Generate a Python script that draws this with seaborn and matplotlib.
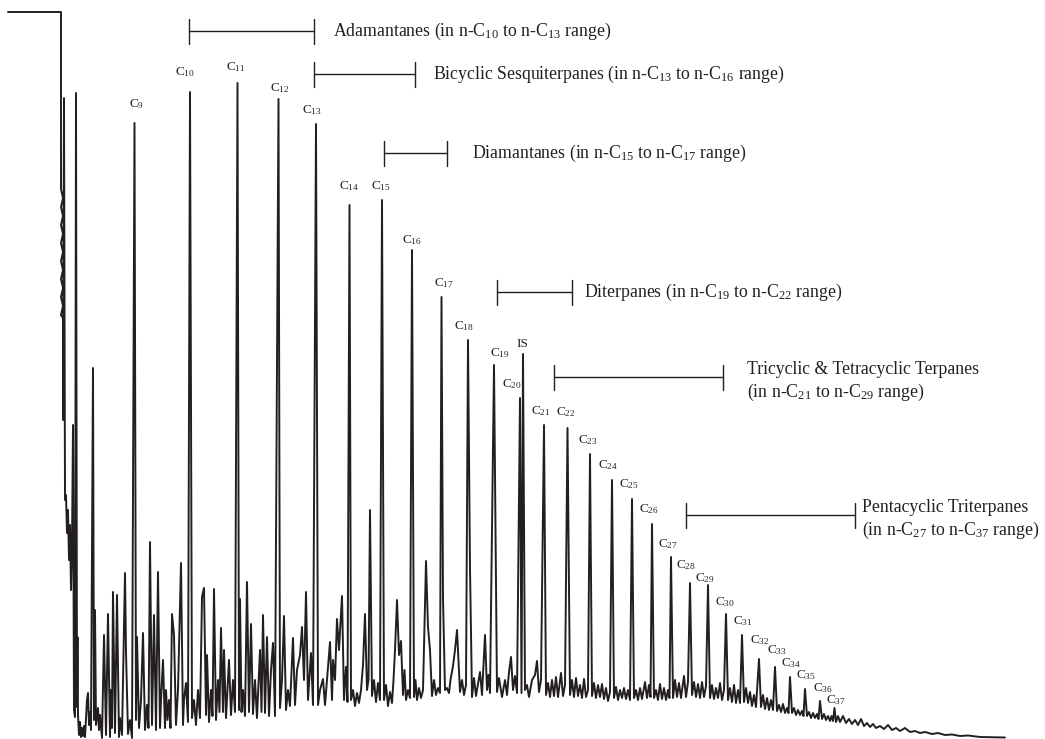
import matplotlib.pyplot as plt
import pandas as pd
import seaborn as sns

# n-alkane peaks (scan position, abundance at apex)
alkane_carbons = [9, 10, 11, 12, 13, 14, 15, 16, 17, 18, 19, 20, 21, 22, 23,
                  24, 25, 26, 27, 28, 29, 30, 31, 32, 33, 34, 35, 36, 37]
alkane_scan = [134.5, 190, 237.5, 278.5, 316, 349.5, 382, 412, 441.5, 468,
               494, 520, 544, 567.5, 590, 612, 632, 652, 671, 690, 708, 726,
               742, 759, 775, 790, 805, 820, 834.5]
alkane_abundance = [616, 647, 656, 640, 615, 534, 539, 489, 442, 399, 374,
                    341, 314, 311, 285, 259, 240, 215, 182, 156, 154, 125,
                    104, 80, 72, 62, 50, 38, 31]

# internal standard
is_scan = [523]
is_abundance = [385]

# solvent front at the start of the run (in drawing order)
solvent_scan = [8, 61, 61, 63, 61, 63, 61, 63, 61, 63, 61, 63, 61, 63, 61,
                63, 61, 63, 63, 64, 65, 66, 67, 68, 69, 70, 71, 72, 73, 74,
                75, 76, 77, 77.5, 78]
solvent_abundance = [727, 727, 550, 541, 532, 523, 514, 505, 496, 487, 478,
                     469, 460, 451, 442, 433, 424, 421, 319, 641, 239, 244,
                     206, 229, 179, 214, 149, 194, 314, 29, 22, 646, 32, 102,
                     24]

# unresolved hump + minor peaks between the n-alkanes
background_scan = [
    79, 80, 81, 82, 83, 84, 85, 87, 88, 89, 90, 91, 93, 94, 95, 96, 98, 99,
    100, 102, 104, 106, 108, 110, 111, 112, 113, 115, 117, 119, 120, 122, 125,
    126, 128, 130, 132, 136, 137, 139, 141, 143, 145, 147, 148.5, 150, 152,
    154, 156, 158, 160, 161, 163, 165, 166, 167.5, 169, 170.5, 172, 174, 176,
    178, 181, 183, 184, 186, 188, 192, 194, 196, 198, 200, 202, 204, 206, 207,
    209, 211, 212.5, 214, 216, 218, 219.5, 221, 223, 224, 226, 229, 231, 233,
    235, 239, 240, 241.5, 243, 245, 247, 249, 251, 253, 255, 257, 260, 261.5,
    263, 265, 267, 269, 271, 273, 275, 280, 282, 284, 286, 288, 290, 293, 295,
    297, 300, 302, 304, 306, 308, 311, 313, 318, 320, 323, 325, 327, 330, 332,
    333, 335, 337, 339, 342, 344, 346, 347.5, 351, 353, 355, 357, 359, 361,
    363, 365, 367, 368.5, 370, 372, 374, 376, 378, 380, 384, 386, 388, 390,
    392, 393.5, 395, 397, 399, 401, 403, 404.5, 406, 408, 410, 414, 415.5,
    417, 419, 421, 423, 426, 428, 430, 432, 434, 436, 438, 440, 443, 445, 447,
    449, 450.5, 453, 455, 457, 458.5, 460, 462, 464, 466, 470, 472, 474, 476,
    480, 482, 485, 487, 488.5, 490, 497, 499, 502, 505, 507, 509, 511, 513,
    515, 517, 521.5, 525, 527, 529, 532, 535, 537, 539, 541, 546, 548, 550,
    552, 554, 556, 558, 561, 563, 565, 570, 572, 574, 576, 578, 580, 582, 584,
    586, 588, 592, 594, 596, 598, 600, 602, 604, 606, 608, 610, 614, 616, 618,
    620, 622, 624, 626, 628, 630, 634, 636, 638, 640, 642, 645, 647, 649,
    650.5, 654, 656, 658, 660, 662, 664, 666, 668, 669.5, 673, 675, 677, 679,
    681, 684, 686, 688, 692, 694, 696, 698, 700, 702, 704, 706, 710, 712, 714,
    716, 718, 720, 722, 724, 728, 730, 732, 734, 736, 738, 740, 744, 746, 748,
    750, 752, 754, 756, 761, 763, 765, 767, 769, 771, 773, 777, 779, 781, 783,
    785, 787, 788.5, 792, 794, 796, 798, 800, 802, 803.5, 807, 809, 811, 813,
    815, 817, 818.5, 822, 824, 826, 828, 830, 831.5, 833, 836, 838, 840, 843,
    846, 849, 852, 855, 858, 861, 864, 867, 870, 873, 876, 880, 884, 888, 892,
    896, 900, 905, 910, 915, 920, 925, 932, 938, 945, 952, 960, 968, 980, 1005]
background_abundance = [
    4, 17, 2, 11, 3, 13, 2, 39, 46, 14, 27, 9, 371, 19, 129, 14, 31, 9,
    24, 1, 104, 4, 125, 2, 49, 11, 147, 6, 144, 2, 21, 4, 166,
    87, 5, 19, 1, 19, 102, 11, 39, 106, 9, 34, 11, 197, 14,
    124, 9, 167, 11, 39, 79, 11, 49, 19, 39, 11, 125, 104, 14,
    49, 176, 14, 39, 56, 17, 21, 39, 14, 49, 21, 142, 151, 24, 84,
    17, 49, 23, 150, 19, 59, 27, 111, 27, 89, 21, 79, 24, 59,
    27, 29, 140, 27, 49, 23, 157, 27, 115, 25, 59, 21, 89, 27,
    124, 26, 102, 23, 69, 96, 23, 31, 59, 123, 29, 49, 33, 101, 34,
    69, 84, 112, 59, 147, 39, 86, 34, 34, 49, 60, 34, 59, 97, 39,
    79, 59, 120, 89, 143, 39, 72, 37, 39, 49, 33, 46, 36, 49,
    74, 125, 49, 59, 229, 43, 59, 37, 56, 39, 39, 54, 33, 47,
    36, 59, 89, 139, 84, 98, 44, 69, 39, 49, 41, 42, 59,
    39, 51, 41, 49, 178, 112, 89, 43, 59, 44, 51, 46, 141, 49, 51,
    46, 59, 73, 89, 109, 79, 47, 59, 44, 54, 171, 42, 61, 43,
    67, 44, 104, 49, 64, 46, 47, 61, 42, 59, 44, 67, 82, 49,
    63, 46, 46, 49, 54, 42, 59, 64, 78, 47, 59, 44, 56, 42,
    59, 43, 62, 42, 66, 43, 54, 44, 59, 42, 61, 43, 54, 41, 60,
    42, 49, 43, 56, 41, 54, 42, 55, 40, 51, 38, 47, 41, 52, 39,
    49, 41, 51, 40, 49, 39, 41, 49, 39, 51, 40, 57, 41, 54,
    42, 41, 49, 39, 55, 40, 51, 39, 49, 41, 41, 59, 42, 56,
    41, 63, 42, 57, 44, 57, 42, 55, 41, 57, 42, 53, 41, 54, 40,
    51, 41, 56, 39, 49, 39, 51, 37, 54, 36, 49, 36, 37, 51, 36,
    47, 33, 44, 32, 32, 44, 30, 41, 29, 39, 29, 28, 34, 27, 35,
    26, 31, 26, 26, 31, 24, 29, 24, 28, 23, 23, 27, 21, 26,
    21, 25, 20, 20, 25, 19, 23, 18, 23, 18, 17, 23, 17, 23,
    16, 20, 15, 19, 14, 20, 13, 16, 12, 15, 11, 13, 10, 14, 9,
    11, 8, 11, 7, 8, 6, 7, 5, 6, 4, 4.5, 3, 3.5, 2, 1.5]

# label anchor for each n-alkane (centre of the text)
alkane_label_pos = [(137, 635), (185, 667), (236, 672), (280, 651), (312, 629),
                    (349, 553), (381, 553), (412, 499), (444, 456), (464, 413),
                    (500, 386), (512, 355), (541, 328), (566, 327), (588, 299),
                    (608, 274), (629, 255), (649, 230), (668, 195), (686, 174),
                    (705, 161), (725, 137), (743, 118), (760, 99), (777, 89),
                    (791, 76), (806, 64), (823, 51), (836, 39)]
is_label_pos = (522, 395)

# biomarker ranges drawn as brackets
bracket_start = [189, 314, 384, 497, 554, 686]
bracket_end = [314, 415, 447, 572, 723, 855]
bracket_level = [708, 665, 586, 447, 362, 224]
bracket_text = [
    ['Adamantanes (in n-C$_{10}$ to n-C$_{13}$ range)'],
    ['Bicyclic Sesquiterpanes (in n-C$_{13}$ to n-C$_{16}$ range)'],
    ['Diamantanes (in n-C$_{15}$ to n-C$_{17}$ range)'],
    ['Diterpanes (in n-C$_{19}$ to n-C$_{22}$ range)'],
    ['Tricyclic & Tetracyclic Terpanes', '(in n-C$_{21}$ to n-C$_{29}$ range)'],
    ['Pentacyclic Triterpanes', '(in n-C$_{27}$ to n-C$_{37}$ range)'],
]
bracket_text_x = [333, 433, 472, 584, 747, 862]

sns.set_theme(style='white')
plt.rcParams['font.family'] = ['Liberation Serif', 'DejaVu Serif']
plt.rcParams['mathtext.default'] = 'regular'

ink = '#231f20'

peaks = pd.DataFrame({
    'scan': background_scan + alkane_scan + is_scan,
    'abundance': background_abundance + alkane_abundance + is_abundance,
}).sort_values('scan', kind='mergesort')
solvent = pd.DataFrame({'scan': solvent_scan, 'abundance': solvent_abundance})
trace = pd.concat([solvent, peaks], ignore_index=True)

fig = plt.figure(figsize=(10.45, 7.39), dpi=100)
ax = fig.add_axes([0, 0, 1, 1])
sns.lineplot(data=trace, x='scan', y='abundance', sort=False, estimator=None,
             color=ink, lw=1.4, ax=ax)

for n, (lx, ly) in zip(alkane_carbons, alkane_label_pos):
    ax.text(lx, ly, f'C$_{{{n}}}$', fontsize=9.5, ha='center', va='center',
            color=ink)
ax.text(is_label_pos[0], is_label_pos[1], 'IS', fontsize=9.5, ha='center',
        va='center', color=ink)

for x0, x1, lev, lines, tx in zip(bracket_start, bracket_end, bracket_level,
                                  bracket_text, bracket_text_x):
    ax.plot([x0, x1], [lev, lev], color=ink, lw=1.0)
    ax.plot([x0, x0], [lev - 12.5, lev + 12.5], color=ink, lw=1.0)
    ax.plot([x1, x1], [lev - 12.5, lev + 12.5], color=ink, lw=1.0)
    if len(lines) == 1:
        ax.text(tx, lev, lines[0], fontsize=12.8, ha='left', va='center',
                color=ink)
    else:
        ax.text(tx, lev + 8, lines[0], fontsize=12.8, ha='left',
                va='center', color=ink)
        ax.text(tx, lev - 15, lines[1], fontsize=12.8, ha='left',
                va='center', color=ink)

ax.set_xlim(0, 1045)
ax.set_ylim(0, 739)
ax.axis('off')
if ax.get_legend() is not None:
    ax.get_legend().remove()

fig.savefig('out.png', dpi=100)
